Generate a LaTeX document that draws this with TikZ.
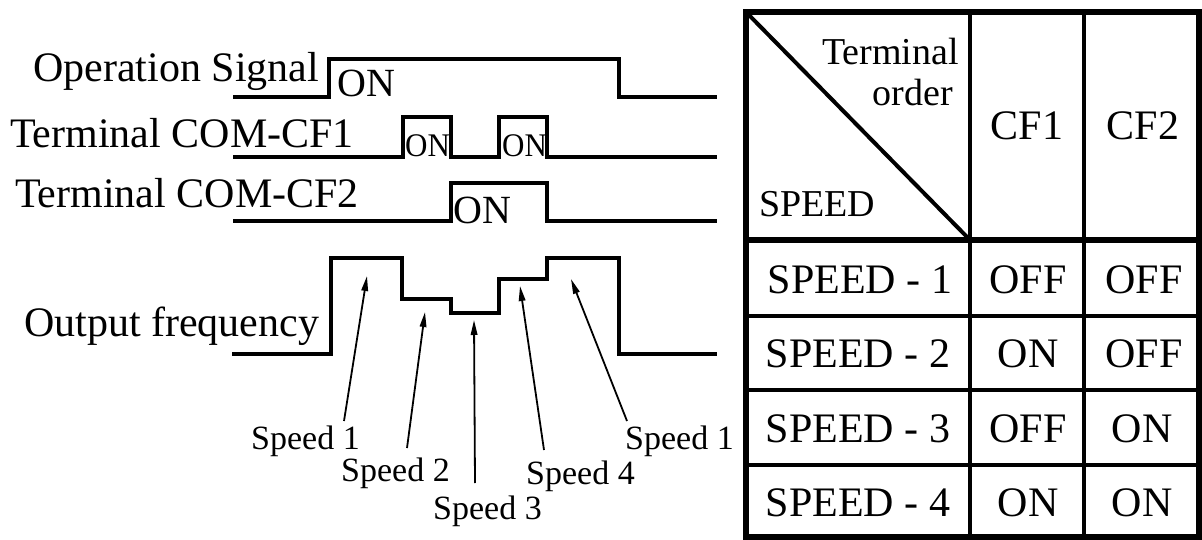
\documentclass[tikz,border=0pt]{standalone}
\usepackage{fontspec}
\setmainfont{Liberation Serif}
\usetikzlibrary{arrows.meta}
\begin{document}
\begin{tikzpicture}[x=1pt,y=-1pt,
  wave/.style={line width=4pt,line join=miter,line cap=butt},
  lbl/.style={inner sep=0pt,anchor=base west,font=\fontsize{42}{48}\selectfont},
  onbig/.style={inner sep=0pt,anchor=base west,font=\fontsize{40}{46}\selectfont},
  onsmall/.style={inner sep=0pt,anchor=base west,font=\fontsize{33}{38}\selectfont,xscale=0.94},
  spd/.style={inner sep=0pt,anchor=base west,font=\fontsize{34}{40}\selectfont},
  ptr/.style={line width=1.8pt,-{Triangle[length=15pt,width=6.5pt]}},
  cell/.style={inner sep=0pt,anchor=base,font=\fontsize{42}{48}\selectfont},
  hdr/.style={inner sep=0pt,font=\fontsize{38}{44}\selectfont},
  outer/.style={line width=6.5pt},
  inner/.style={line width=4.5pt}]
\useasboundingbox (0,0) rectangle (1202,540);

% ---- left labels ----
\node[lbl] (opsig) at (33,82) {Operation Signal};
\node[lbl] (cf1lbl) at (10,148) {Terminal COM-CF1};
\node[lbl] (cf2lbl) at (15,208) {Terminal COM-CF2};
\node[lbl] (outf) at (24,336) {Output frequency};

% ---- waveforms ----
\draw[wave] (233,97.5) -- (329,97.5) -- (329,59) -- (619,59) -- (619,97.5) -- (717,97.5);
\draw[wave] (233,157) -- (403,157) -- (403,117) -- (451,117) -- (451,157) -- (499,157)
  -- (499,117) -- (547,117) -- (547,157) -- (717,157);
\draw[wave] (233,221) -- (451,221) -- (451,183) -- (547,183) -- (547,221) -- (717,221);
\draw[wave] (232,354) -- (331,354) -- (331,258) -- (402,258) -- (402,299) -- (451,299)
  -- (451,313) -- (499,313) -- (499,279) -- (547,279) -- (547,258) -- (619,258)
  -- (619,354) -- (717,354);

% ---- ON labels ----
\node[onbig] (on0) at (337,97) {ON};
\node[onsmall] (on1) at (405,157) {ON};
\node[onsmall] (on2) at (502,157) {ON};
\node[onbig] (on3) at (453,223) {ON};

% ---- speed labels and pointers ----
\node[spd] (s1a) at (251,449) {Speed 1};
\node[spd] (s2) at (341,481) {Speed 2};
\node[spd] (s3) at (433,519) {Speed 3};
\node[spd] (s4) at (526,484) {Speed 4};
\node[spd] (s1b) at (625,449) {Speed 1};

\coordinate (t1a) at (344,421); \coordinate (h1a) at (367,276);
\coordinate (t2) at (407,448);  \coordinate (h2) at (425,312);
\coordinate (t3) at (475,483);  \coordinate (h3) at (474,320);
\coordinate (t4) at (544,450);  \coordinate (h4) at (520,286);
\coordinate (t1b) at (627,421); \coordinate (h1b) at (571,279);
\draw[ptr] (t1a) -- (h1a);
\draw[ptr] (t2) -- (h2);
\draw[ptr] (t3) -- (h3);
\draw[ptr] (t4) -- (h4);
\draw[ptr] (t1b) -- (h1b);

% ---- table ----
\draw[inner] (970,12) -- (970,538);
\draw[inner] (1084,12) -- (1084,538);
\draw[line width=5.5pt] (746,240) -- (1199,240);
\draw[inner] (746,316) -- (1199,316);
\draw[inner] (746,390) -- (1199,390);
\draw[inner] (746,465) -- (1199,465);
\draw[line width=4pt] (746,12) -- (970,240);
\draw[outer] (746,12) rectangle (1199,537);

\node[hdr,anchor=base east] (term) at (959,65) {Terminal};
\node[hdr,anchor=base east] (order) at (953,106) {order};
\node[hdr,anchor=base west] (speedh) at (759,217) {SPEED};
\node[cell] (cf1) at (1027,140) {CF1};
\node[cell] (cf2) at (1143,140) {CF2};

\node[cell] (r1a) at (860,293) {SPEED - 1};
\node[cell] (r1b) at (1028,293) {OFF};
\node[cell] (r1c) at (1144,293) {OFF};
\node[cell] (r2a) at (858,367) {SPEED - 2};
\node[cell] (r2b) at (1028,367) {ON};
\node[cell] (r2c) at (1144,367) {OFF};
\node[cell] (r3a) at (858,442) {SPEED - 3};
\node[cell] (r3b) at (1028,442) {OFF};
\node[cell] (r3c) at (1142,442) {ON};
\node[cell] (r4a) at (858,516) {SPEED - 4};
\node[cell] (r4b) at (1028,516) {ON};
\node[cell] (r4c) at (1142,516) {ON};
\end{tikzpicture}
\end{document}
